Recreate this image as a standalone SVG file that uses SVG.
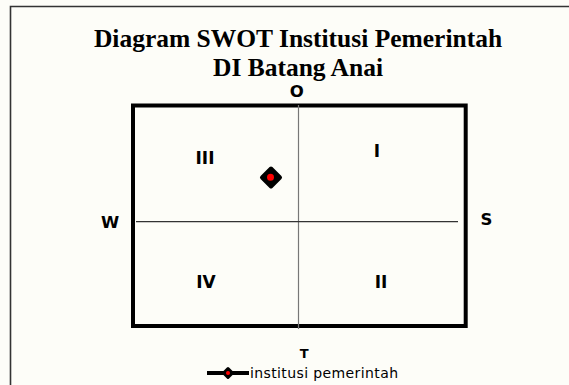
<svg xmlns="http://www.w3.org/2000/svg" width="569" height="385" viewBox="0 0 569 385">
  <defs>
    <style>
      .title { font-family: "Liberation Serif", "Times New Roman", serif; font-weight: bold; font-size: 25.5px; fill: #000; text-anchor: middle; }
      .axis { font-family: "DejaVu Sans", Verdana, sans-serif; font-weight: bold; font-size: 16.5px; fill: #000; text-anchor: middle; }
      .quad { font-family: "DejaVu Sans", Verdana, sans-serif; font-weight: bold; font-size: 17px; fill: #000; text-anchor: middle; }
      .legend { font-family: "DejaVu Sans", Verdana, sans-serif; font-size: 14px; fill: #000; }
      .marker { fill: #000; stroke: #000; stroke-linejoin: round; }
      .dot { fill: #ff0000; }
    </style>
  </defs>
  <rect x="0" y="0" width="569" height="385" fill="#fdfdf8"/>
  <path d="M10.5 385 V6.5 H569" fill="none" stroke="#333" stroke-width="1.6"/>

  <g id="title">
    <text class="title" x="298" y="47">Diagram SWOT Institusi Pemerintah</text>
    <text class="title" x="298" y="76">DI Batang Anai</text>
  </g>

  <g id="frame">
    <rect x="133" y="105.5" width="332.7" height="220.5" fill="none" stroke="#000" stroke-width="4"/>
  </g>

  <g id="connectors">
    <line x1="298.5" y1="105" x2="298.5" y2="329" stroke="#777" stroke-width="1.2"/>
    <line x1="136" y1="221.7" x2="458" y2="221.7" stroke="#333" stroke-width="1.2"/>
  </g>

  <g id="axis-labels">
    <text class="axis" x="296.7" y="97">O</text>
    <text class="axis" x="110" y="228">W</text>
    <text class="axis" x="486.5" y="225">S</text>
    <text class="axis" x="304.3" y="358" style="font-size:13px">T</text>
  </g>

  <g id="quadrant-labels">
    <text class="quad" x="205" y="163.5">III</text>
    <text class="quad" x="377" y="157">I</text>
    <text class="quad" x="206" y="287.5">IV</text>
    <text class="quad" x="381" y="287.5">II</text>
  </g>

  <g id="point-institusi">
    <polygon class="marker" points="271,168.5 280,177.5 271,186.5 262,177.5" stroke-width="4"/>
    <circle class="dot" cx="270.5" cy="177.3" r="3.5"/>
  </g>

  <g id="legend">
    <line x1="207" y1="373" x2="249" y2="373" stroke="#000" stroke-width="4"/>
    <polygon class="marker" points="228,368.5 232.5,373 228,377.5 223.5,373" stroke-width="3"/>
    <circle class="dot" cx="228" cy="373" r="2"/>
    <text class="legend" x="250" y="378" textLength="148" lengthAdjust="spacing">institusi pemerintah</text>
  </g>
</svg>
